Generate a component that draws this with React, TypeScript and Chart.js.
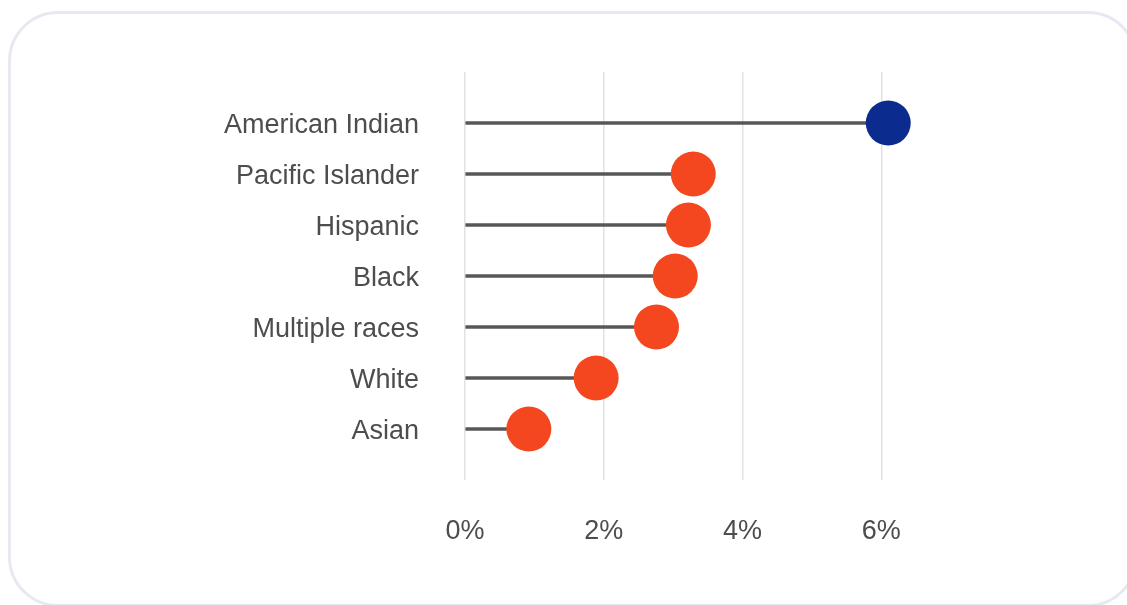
import React, { useEffect, useRef } from 'react';
import { Chart, registerables } from 'chart.js';

Chart.register(...registerables);

const categories = ['American Indian', 'Pacific Islander', 'Hispanic', 'Black', 'Multiple races', 'White', 'Asian'];
const values = [6.1, 3.29, 3.22, 3.03, 2.76, 1.89, 0.92];
const highlighted = ['American Indian'];
const xTickValues = [0, 2, 4, 6];
const xMin = 0;
const xMax = 6.5;

const ORANGE = '#F5471F';
const NAVY = '#0B2C8E';
const STEM = '#575757';
const TEXT = '#4d4d4d';
const FONT = { family: '"Liberation Sans", Arial, Helvetica, sans-serif', size: 27 };

export default function App() {
  const ref = useRef<HTMLCanvasElement | null>(null);

  useEffect(() => {
    if (!ref.current) return;
    const points = categories.map((c, i) => ({ x: values[i], y: i }));
    const colors = categories.map((c) => (highlighted.includes(c) ? NAVY : ORANGE));
    const chart = new Chart(ref.current, {
      type: 'scatter',
      data: {
        datasets: [
          {
            type: 'scatter',
            data: points,
            pointRadius: 22.5,
            pointHoverRadius: 22.5,
            pointBackgroundColor: colors,
            pointBorderColor: colors,
            pointBorderWidth: 0,
            order: 0,
            clip: false,
          } as any,
          {
            type: 'bar',
            indexAxis: 'y',
            data: points,
            backgroundColor: STEM,
            barThickness: 3,
            order: 1,
          } as any,
        ],
      },
      options: {
        animation: false,
        responsive: false,
        events: [],
        layout: { padding: { top: 72, right: 211, left: 0, bottom: 0 } },
        plugins: { legend: { display: false }, tooltip: { enabled: false } },
        scales: {
          x: {
            type: 'linear',
            position: 'bottom',
            min: xMin,
            max: xMax,
            offset: false,
            afterBuildTicks: (s: any) => {
              s.ticks = xTickValues.map((v) => ({ value: v }));
            },
            ticks: {
              callback: (v: any) => `${v}%`,
              padding: 35,
              font: FONT,
              color: TEXT,
            },
            grid: { color: '#e2e2e2', lineWidth: 1.5, drawTicks: false, offset: false },
            border: { display: false },
            afterFit: (s: any) => {
              s.height = 125;
            },
          },
          y: {
            type: 'linear',
            min: -1,
            max: categories.length,
            reverse: true,
            offset: false,
            afterBuildTicks: (s: any) => {
              s.ticks = categories.map((c, i) => ({ value: i }));
            },
            ticks: {
              autoSkip: false,
              callback: (v: any) => categories[v] ?? '',
              padding: 46,
              labelOffset: 3,
              font: FONT,
              color: TEXT,
            },
            grid: { display: false, drawTicks: false, offset: false },
            border: { display: false },
            afterFit: (s: any) => {
              s.width = 465;
            },
          },
        },
      } as any,
    });
    return () => chart.destroy();
  }, []);

  return (
    <div style={{ position: 'fixed', left: 0, top: 0, width: 1127, height: 605, background: '#fff', overflow: 'hidden' }}>
      <div
        style={{
          position: 'absolute',
          left: 8,
          top: 10.5,
          width: 1130,
          height: 596,
          border: '3px solid #e6e9f1',
          borderRadius: 50,
          boxSizing: 'border-box',
        }}
      />
      <canvas ref={ref} width={1127} height={605} style={{ position: 'absolute', left: 0, top: 0, width: 1127, height: 605 }} />
    </div>
  );
}
